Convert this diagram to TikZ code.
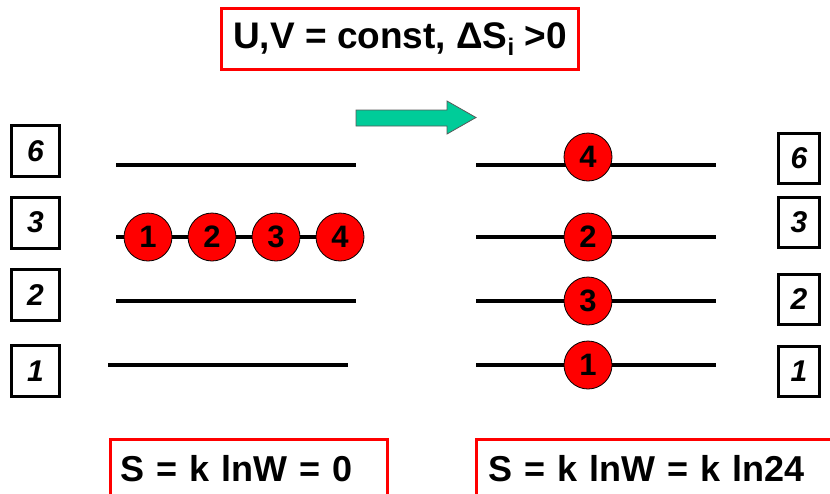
\documentclass[tikz,border=0pt]{standalone}
\usepackage{fontspec}
\setmainfont{Liberation Sans}
\definecolor{arrowgreen}{RGB}{0,204,153}
\begin{document}
\begin{tikzpicture}[x=1pt,y=-1pt,
  lvl/.style={draw=black, line width=3pt, inner sep=0pt, fill=white,
    font=\bfseries\itshape\fontsize{30}{30}\selectfont},
  lvlL/.style={lvl, minimum width=48pt, minimum height=51pt},
  lvlR/.style={lvl, minimum width=41pt, minimum height=50pt},
  ball/.style={circle, draw=black, line width=0.8pt, fill=red, minimum size=48pt, inner sep=0pt,
    font=\bfseries\fontsize{31}{31}\selectfont},
  lvline/.style={line width=4pt, draw=black},
  rbox/.style={draw=red, line width=2.5pt, inner ysep=0pt, align=left,
    font=\bfseries\fontsize{36}{36}\selectfont}]
\useasboundingbox (0,0) rectangle (830,493);
\clip (0,0) rectangle (830,493);

% title
\node[draw=red, line width=3pt, minimum width=357pt, minimum height=61pt, inner sep=0pt,
  font=\bfseries\fontsize{37}{37}\selectfont] (title) at (400,39)
  {U,V = const, ΔS\raisebox{-7pt}{\fontsize{24}{24}\selectfont i} >0};

% arrow
\filldraw[fill=arrowgreen, draw=black!65, line width=0.8pt]
  (356,110) -- (447,110) -- (447,101) -- (476,117.5) -- (447,134) -- (447,126) -- (356,126) -- cycle;

% left level labels
\node[lvlL] (L6) at (35.5,151) {6};
\node[lvlL] (L3) at (35.5,222.5) {3};
\node[lvlL] (L2) at (35.5,295) {2};
\node[lvlL] (L1) at (35.5,371) {1};

% right level labels
\node[lvlR] (R6) at (799,158.5) {6};
\node[lvlR] (R3) at (799,222.5) {3};
\node[lvlR] (R2) at (799,299.5) {2};
\node[lvlR] (R1) at (799,371) {1};

% left levels
\coordinate (la6) at (116,165); \coordinate (lb6) at (356,165);
\coordinate (la3) at (116,237); \coordinate (lb3) at (356,237);
\coordinate (la2) at (116,301); \coordinate (lb2) at (356,301);
\coordinate (la1) at (108,365); \coordinate (lb1) at (348,365);
\draw[lvline] (la6) -- (lb6);
\draw[lvline] (la3) -- (lb3);
\draw[lvline] (la2) -- (lb2);
\draw[lvline] (la1) -- (lb1);

% right levels
\coordinate (ra6) at (476,165); \coordinate (rb6) at (716,165);
\coordinate (ra3) at (476,237); \coordinate (rb3) at (716,237);
\coordinate (ra2) at (476,301); \coordinate (rb2) at (716,301);
\coordinate (ra1) at (476,365); \coordinate (rb1) at (716,365);
\draw[lvline] (ra6) -- (rb6);
\draw[lvline] (ra3) -- (rb3);
\draw[lvline] (ra2) -- (rb2);
\draw[lvline] (ra1) -- (rb1);

% balls left
\node[ball] (b1) at (148,237) {1};
\node[ball] (b2) at (212,237) {2};
\node[ball] (b3) at (276,237) {3};
\node[ball] (b4) at (340,237) {4};

% balls right
\node[ball] (c4) at (588,157) {4};
\node[ball] (c2) at (588,237) {2};
\node[ball] (c3) at (588,301) {3};
\node[ball] (c1) at (588,365) {1};

% bottom boxes
\node[rbox, anchor=north west, minimum height=58pt, inner xsep=10pt, text width=257pt] (sL) at (109,438)
  {S = k lnW = 0};
\node[rbox, anchor=north west, minimum height=58pt, inner xsep=12pt, text width=360pt] (sR) at (475,438)
  {S = k lnW = k ln24};
\end{tikzpicture}
\end{document}
